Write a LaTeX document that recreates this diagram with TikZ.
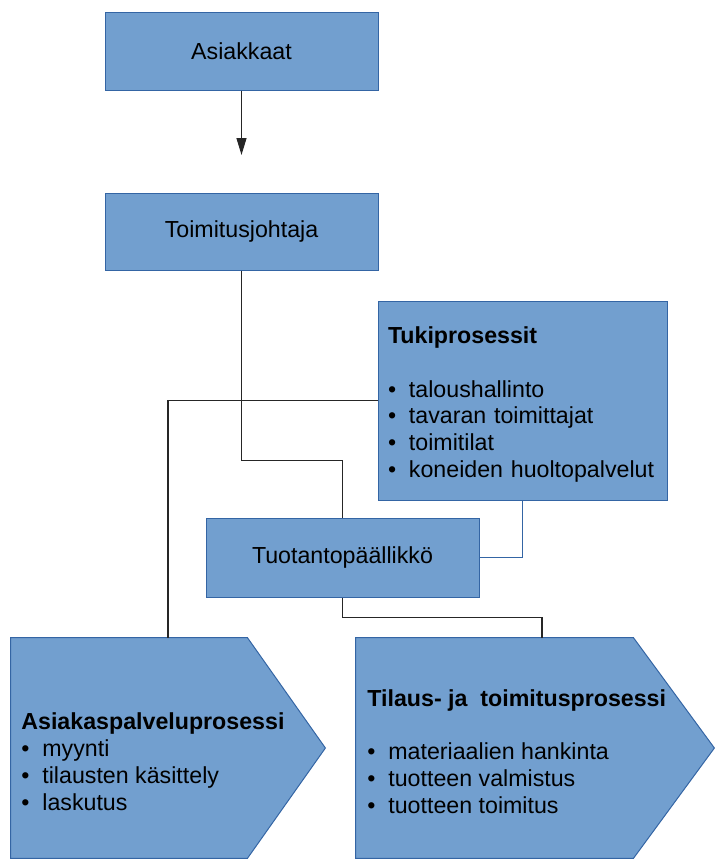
\documentclass[tikz,border=0pt]{standalone}
\usepackage{fontspec}
\setmainfont{Liberation Sans}
\usetikzlibrary{arrows.meta,calc}
\definecolor{boxfill}{HTML}{729FCF}
\definecolor{boxline}{HTML}{3465A4}
\newcommand{\kohta}[1]{\makebox[10.5pt][l]{\textbullet}#1}

\begin{document}
\begin{tikzpicture}[x=0.5pt,y=-0.5pt,
			every node/.style={font=\fontsize{11.6}{13.35}\selectfont},
			kuvio/.style={draw=boxline,fill=boxfill,line width=0.5pt},
			laatikko/.style={kuvio,rectangle,inner sep=0pt},
			yhteys/.style={draw=black!85,line width=0.6pt},
			nuoli/.style={-{Triangle[length=8.5pt,width=5pt]}}]
			\useasboundingbox (0,0) rectangle (715,859);
			\node[laatikko,minimum width=136.5pt,minimum height=39pt] (ask) at (241.5,51) {Asiakkaat};
			\node[laatikko,minimum width=136.5pt,minimum height=38.5pt] (tj) at (241.5,231.5) {Toimitusjohtaja};
			\node[laatikko,minimum width=144.5pt,minimum height=99.5pt,align=left,text width=134.5pt] (tuki) at (522.5,400.5) {\rule{0pt}{12.5pt}\textbf{Tukiprosessit}\\[13.35pt]
				\kohta{taloushallinto}\\
				\kohta{tavaran toimittajat}\\
				\kohta{toimitilat}\\
				\kohta{koneiden huoltopalvelut}};
			\node[laatikko,minimum width=136.5pt,minimum height=39.5pt] (tuot) at (342.5,557.5) {Tuotantopäällikkö};
			\node[minimum width=157pt,minimum height=110pt,inner sep=0pt] (asp) at (168,748) {};
			\node[minimum width=179pt,minimum height=110pt,inner sep=0pt] (tilaus) at (535,748) {};
			\path[kuvio] (asp.north west) -- ([xshift=-39pt]asp.north east) -- (asp.east)
				-- ([xshift=-39pt]asp.south east) -- (asp.south west) -- cycle;
			\path[kuvio] (tilaus.north west) -- ([xshift=-40.5pt]tilaus.north east) -- (tilaus.east)
				-- ([xshift=-40.5pt]tilaus.south east) -- (tilaus.south west) -- cycle;
			\node[anchor=base west,align=left,inner sep=0pt] (asp-teksti) at (21,810) {\textbf{Asiakaspalveluprosessi}\\
				\kohta{myynti}\\
				\kohta{tilausten käsittely}\\
				\kohta{laskutus}};
			\node[anchor=base west,align=left,inner sep=0pt] (tilaus-teksti) at (367,813) {\textbf{Tilaus- ja\ \ toimitusprosessi}\\[13.35pt]
				\kohta{materiaalien hankinta}\\
				\kohta{tuotteen valmistus}\\
				\kohta{tuotteen toimitus}};
			\coordinate (karki) at (241.5,155);
			\draw[yhteys,nuoli] (ask.south) -- (karki);
			\draw[yhteys] (tj.south) -- ++(0,190) -| (tuot.north);
			\draw[yhteys] (tuki.west) -| (asp.north);
			\draw[yhteys,draw=boxline] (tuki.south) |- (tuot.east);
			\draw[yhteys] (tuot.south) -- ++(0,20) -| ($(tilaus.north)+(7,0)$);
			\end{tikzpicture}
\end{document}
